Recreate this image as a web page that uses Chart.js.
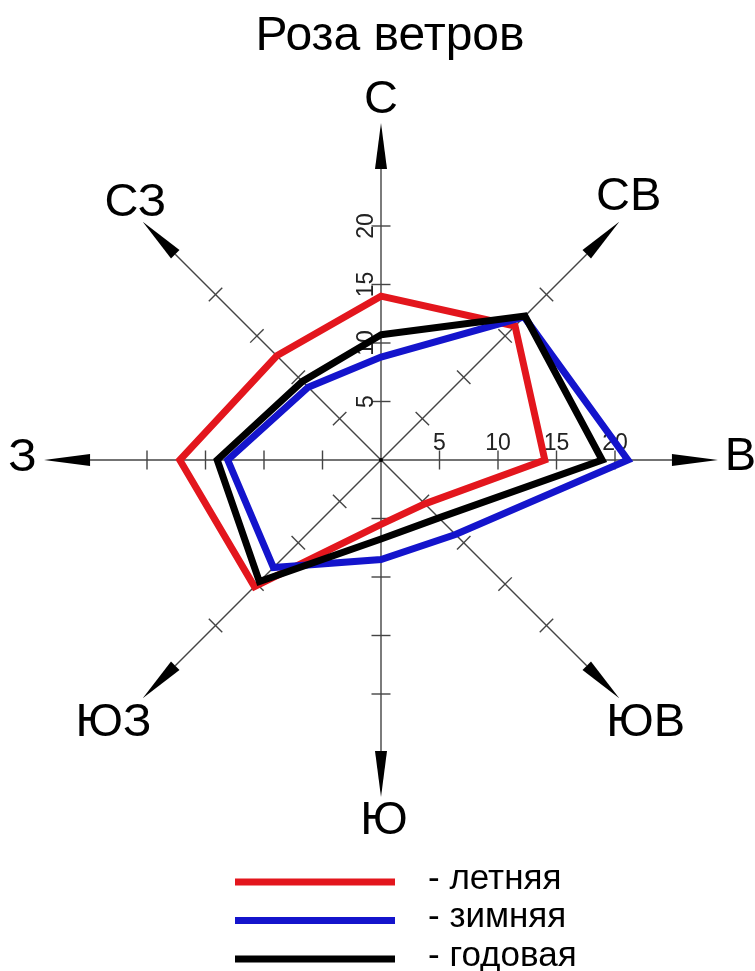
<!DOCTYPE html>
<html>
<head>
<meta charset="utf-8">
<script src="https://cdn.jsdelivr.net/npm/chart.js@4.4.0/dist/chart.umd.min.js"></script>
<style>
  html, body { margin: 0; padding: 0; background: #fff; }
  #wrap { width: 755px; height: 971px; }
</style>
</head>
<body>
<div id="wrap"><canvas id="rose"></canvas></div>
<script>
// Роза ветров: повторяемость ветра по румбам, %
const directions = ['С', 'СВ', 'В', 'ЮВ', 'Ю', 'ЮЗ', 'З', 'СЗ'];
const summer = [14, 16.2, 14, 5.3, 5.5, 15.3, 17.2, 12.6];
const winter = [8.8, 17.3, 21.1, 9, 8.5, 13, 13.1, 8.8];
const annual = [10.7, 17.4, 18.9, 7, 6.75, 14.7, 14, 9.5];
const seriesNames = ['летняя', 'зимняя', 'годовая'];
const seriesColors = ['#e3161d', '#1414cc', '#000000'];
const axisTicks = [5, 10, 15, 20];

const FONT = '"Liberation Sans", Arial, sans-serif';
const axisEnd = 28.8;   // where the arrow tip sits, in scale units
const labelAt = 30.9;   // direction label distance
const labelNudge = [[0, 2], [-8, -7], [-2, -3], [9, 7], [3, 0], [-12, 7], [3, -2], [10, -1]];

const roseDecor = {
    id: 'roseDecor',
    beforeDatasetsDraw(chart) {
        const { ctx } = chart;
        const r = chart.scales.r;
        const dist = v => r.getDistanceFromCenterForValue(v);
        ctx.save();
        ctx.strokeStyle = '#444';
        ctx.lineWidth = 1.4;

        directions.forEach((name, i) => {
            const tip = r.getPointPosition(i, dist(axisEnd));
            const base = r.getPointPosition(i, dist(axisEnd) - 46);
            const nx = -Math.sin(tip.angle), ny = Math.cos(tip.angle);

            // axis line
            ctx.beginPath();
            ctx.moveTo(r.xCenter, r.yCenter);
            ctx.lineTo(base.x, base.y);
            ctx.stroke();

            // tick marks
            axisTicks.forEach(v => {
                const p = r.getPointPosition(i, dist(v));
                ctx.beginPath();
                ctx.moveTo(p.x - nx * 9.5, p.y - ny * 9.5);
                ctx.lineTo(p.x + nx * 9.5, p.y + ny * 9.5);
                ctx.stroke();
            });

            // arrow head
            ctx.fillStyle = '#000';
            ctx.beginPath();
            ctx.moveTo(tip.x, tip.y);
            ctx.lineTo(base.x + nx * 6, base.y + ny * 6);
            ctx.lineTo(base.x - nx * 6, base.y - ny * 6);
            ctx.closePath();
            ctx.fill();

            // direction label
            const lp = r.getPointPosition(i, dist(labelAt));
            ctx.font = '47px ' + FONT;
            ctx.textAlign = 'center';
            ctx.textBaseline = 'middle';
            ctx.fillText(name, lp.x + labelNudge[i][0], lp.y + labelNudge[i][1]);
        });

        // center dot
        ctx.beginPath();
        ctx.arc(r.xCenter, r.yCenter, 2, 0, Math.PI * 2);
        ctx.fill();

        // tick labels on north and east axes
        ctx.fillStyle = '#222';
        ctx.font = '23px ' + FONT;
        axisTicks.forEach(v => {
            const pe = r.getPointPosition(2, dist(v));
            ctx.fillText(String(v), pe.x, pe.y - 16);
            const pn = r.getPointPosition(0, dist(v));
            ctx.save();
            ctx.translate(pn.x - 14, pn.y);
            ctx.rotate(-Math.PI / 2);
            ctx.fillText(String(v), 0, 0);
            ctx.restore();
        });
        ctx.restore();
    },
    afterDraw(chart) {
        const { ctx } = chart;
        ctx.save();
        ctx.fillStyle = '#000';
        ctx.font = '48px ' + FONT;
        ctx.textAlign = 'center';
        ctx.textBaseline = 'alphabetic';
        ctx.fillText('Роза ветров', 390, 50);

        // legend
        ctx.font = '35px ' + FONT;
        ctx.textAlign = 'left';
        ctx.textBaseline = 'middle';
        chart.data.datasets.forEach((ds, k) => {
            const y = 882 + k * 38.5;
            ctx.strokeStyle = ds.borderColor;
            ctx.lineWidth = 7;
            ctx.lineCap = 'butt';
            ctx.beginPath();
            ctx.moveTo(235, y);
            ctx.lineTo(395, y);
            ctx.stroke();
            ctx.fillText('- ' + ds.label, 428, y - 3);
        });
        ctx.restore();
    }
};

new Chart(document.getElementById('rose'), {
    type: 'radar',
    data: {
        labels: directions,
        datasets: [
            { label: seriesNames[0], data: summer, borderColor: seriesColors[0], order: 3 },
            { label: seriesNames[1], data: winter, borderColor: seriesColors[1], order: 2 },
            { label: seriesNames[2], data: annual, borderColor: seriesColors[2], order: 1 }
        ].map(d => Object.assign(d, { fill: false, backgroundColor: 'rgba(0,0,0,0)' }))
    },
    options: {
        responsive: true, maintainAspectRatio: false,
        animation: false,
        layout: { padding: { left: 30, right: 23, top: 109, bottom: 160 } },
        elements: {
            line: { borderWidth: 7, tension: 0, borderJoinStyle: 'miter' },
            point: { radius: 0, hoverRadius: 0 }
        },
        plugins: {
            legend: { display: false },
            title: { display: false },
            tooltip: { enabled: false }
        },
        scales: {
            r: {
                min: 0, max: 30,
                ticks: { display: false },
                grid: { display: false },
                angleLines: { display: false },
                pointLabels: { display: false }
            }
        }
    },
    plugins: [roseDecor]
});
</script>
</body>
</html>
